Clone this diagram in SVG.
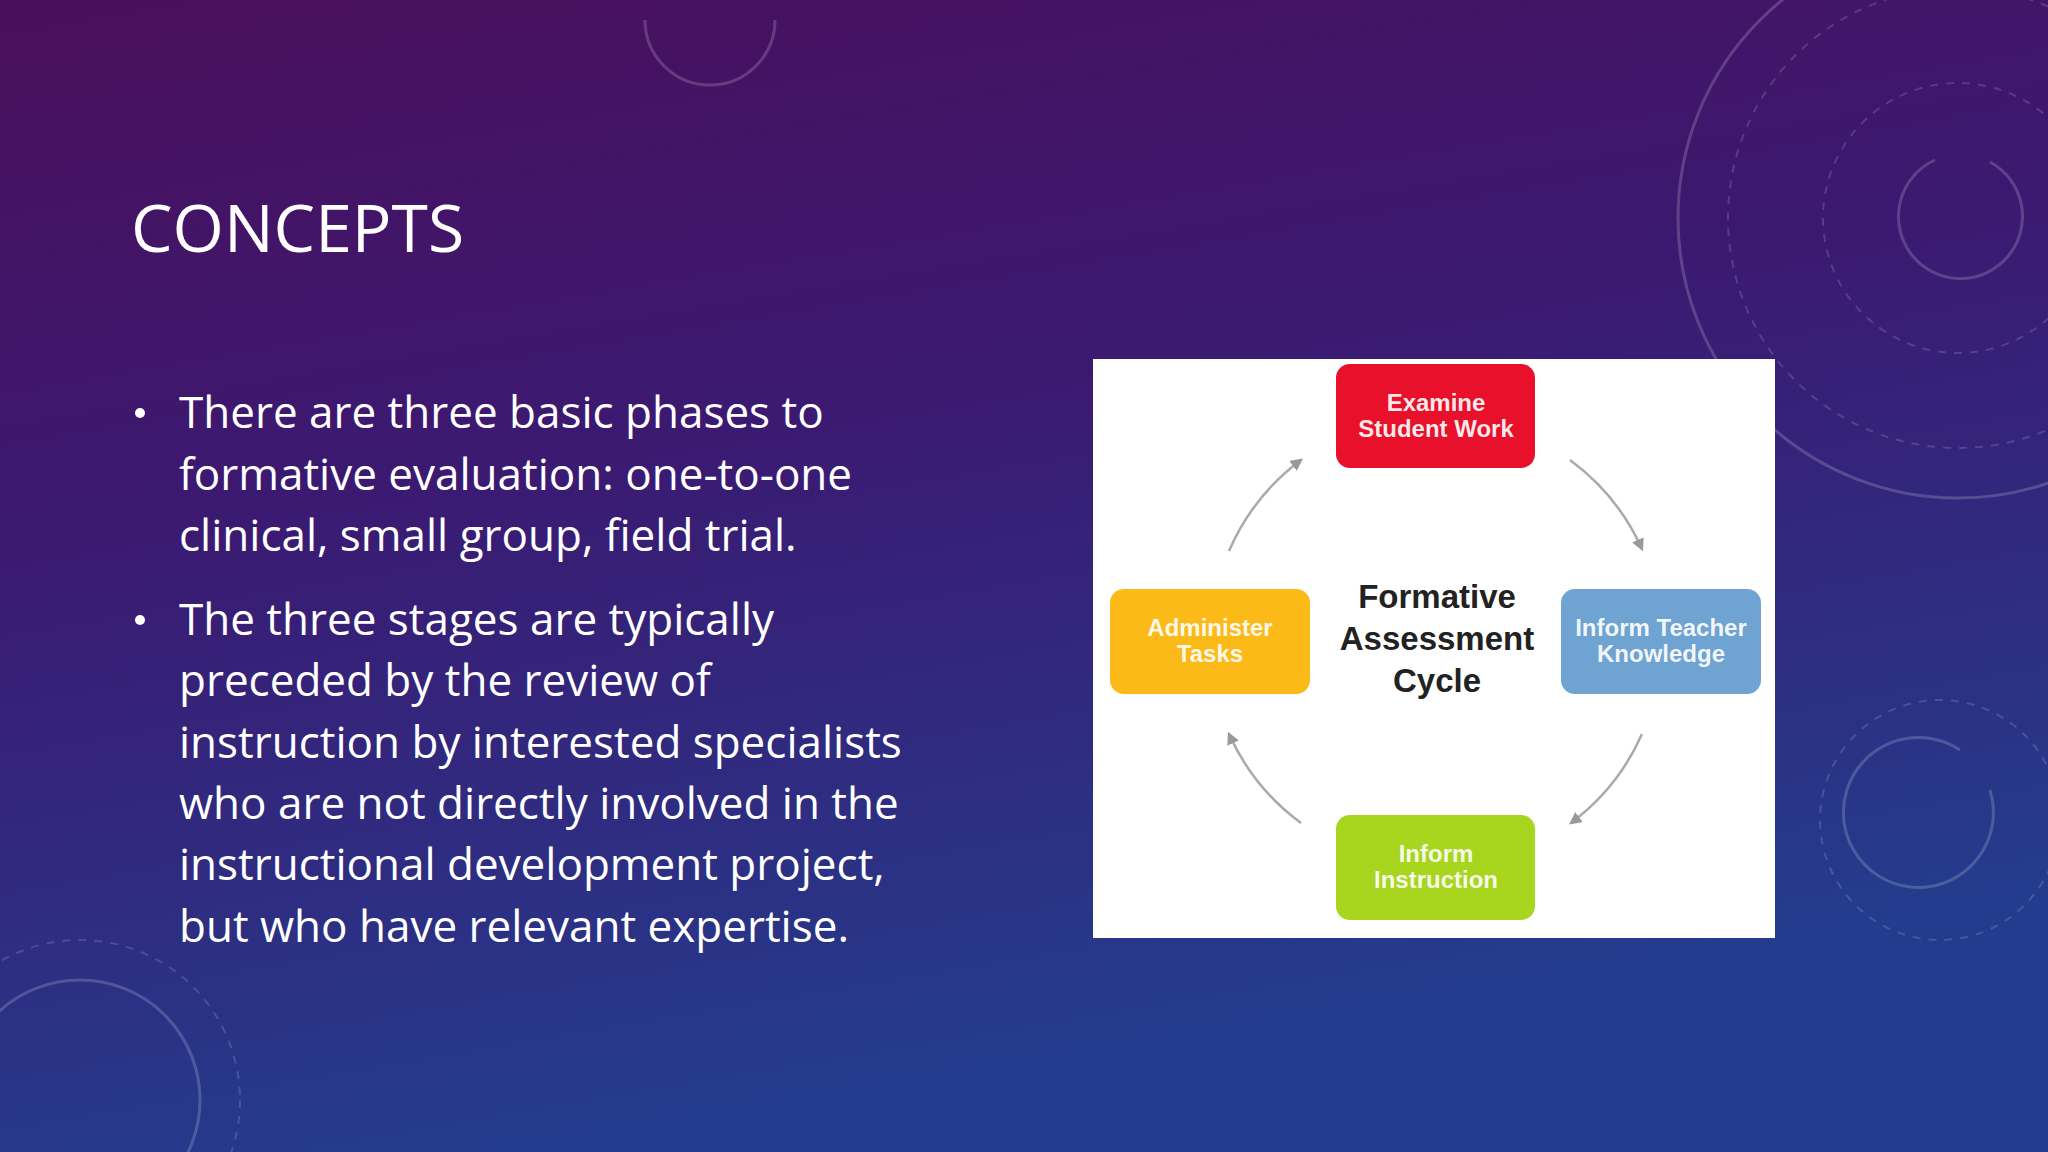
<svg xmlns="http://www.w3.org/2000/svg" width="2048" height="1152" viewBox="0 0 2048 1152">
<defs>
<linearGradient id="bg" x1="0" y1="0" x2="0.3" y2="1">
<stop offset="0" stop-color="#4a0f5c"/>
<stop offset="0.45" stop-color="#3b1a72"/>
<stop offset="1" stop-color="#233d8e"/>
</linearGradient>
<marker id="ah" viewBox="0 0 10 10" refX="8" refY="5" markerWidth="5" markerHeight="5" orient="auto"><path d="M0,0 L10,5 L0,10 z" fill="#999"/></marker>
<style>
.deco{fill:none;stroke:#ffffff;stroke-opacity:0.18;stroke-width:3}
.decod{fill:none;stroke:#ffffff;stroke-opacity:0.15;stroke-width:2;stroke-dasharray:8 8}
.bt{font-family:"Open Sans",sans-serif;font-size:44px;fill:#ffffff}
.box{stroke:none}
.bx{font-family:"Liberation Sans",Arial,sans-serif;font-weight:bold;font-size:24px;fill:#ffffff;text-anchor:middle;fill-opacity:0.92}
.ct{font-family:"Liberation Sans",Arial,sans-serif;font-weight:bold;font-size:33px;fill:#222;text-anchor:middle}
.arc{fill:none;stroke:#aaa;stroke-width:2.5;marker-end:url(#ah)}
</style>
</defs>
<rect width="2048" height="1152" fill="url(#bg)"/>
<g id="decorations">
<circle cx="1958" cy="218" r="280" class="deco"/>
<circle cx="1958" cy="218" r="230" class="decod"/>
<circle cx="1958" cy="218" r="135" class="decod"/>
<path d="M1990,162 A62,62 0 1 1 1935,160" class="deco"/>
<circle cx="1940" cy="820" r="120" class="decod"/>
<path d="M1990,790 A75,75 0 1 1 1960,750" class="deco"/>
<path d="M645,20 A60,60 0 0 0 775,20" class="deco"/>
<circle cx="80" cy="1100" r="120" class="deco"/>
<circle cx="80" cy="1100" r="160" class="decod"/>
</g>
<text id="title" x="131" y="252" font-family="'Open Sans',sans-serif" font-size="66" fill="#ffffff">CONCEPTS</text>
<g id="bullets">
<circle cx="140" cy="413" r="5" fill="#fff"/>
<text class="bt" x="179" y="428">There are three basic phases to</text>
<text class="bt" x="179" y="490">formative evaluation: one-to-one</text>
<text class="bt" x="179" y="551">clinical, small group, field trial.</text>
<circle cx="140" cy="620" r="5" fill="#fff"/>
<text class="bt" x="179" y="635">The three stages are typically</text>
<text class="bt" x="179" y="696">preceded by the review of</text>
<text class="bt" x="179" y="758">instruction by interested specialists</text>
<text class="bt" x="179" y="819">who are not directly involved in the</text>
<text class="bt" x="179" y="880">instructional development project,</text>
<text class="bt" x="179" y="942">but who have relevant expertise.</text>
</g>
<rect id="panel" x="1093" y="359" width="682" height="579" fill="#ffffff"/>
<g id="connectors">
<path class="arc" d="M1570,460 A225,225 0 0 1 1642,549"/>
<path class="arc" d="M1642,734 A225,225 0 0 1 1571,823"/>
<path class="arc" d="M1301,823 A225,225 0 0 1 1229,734"/>
<path class="arc" d="M1229,551 A225,225 0 0 1 1301,460"/>
</g>
<g id="examine"><rect class="box" x="1336" y="364" width="199" height="104" rx="14" fill="#e8102a"/>
<text class="bx" x="1436" y="411">Examine</text><text class="bx" x="1436" y="437">Student Work</text></g>
<g id="inform-teacher"><rect class="box" x="1561" y="589" width="200" height="105" rx="14" fill="#6fa3d2"/>
<text class="bx" x="1661" y="636">Inform Teacher</text><text class="bx" x="1661" y="662">Knowledge</text></g>
<g id="inform-instruction"><rect class="box" x="1336" y="815" width="199" height="105" rx="14" fill="#a8d51e"/>
<text class="bx" x="1436" y="862">Inform</text><text class="bx" x="1436" y="888">Instruction</text></g>
<g id="administer"><rect class="box" x="1110" y="589" width="200" height="105" rx="14" fill="#fbba18"/>
<text class="bx" x="1210" y="636">Administer</text><text class="bx" x="1210" y="662">Tasks</text></g>
<g id="center"><text class="ct" x="1437" y="608">Formative</text><text class="ct" x="1437" y="650">Assessment</text><text class="ct" x="1437" y="692">Cycle</text></g>
</svg>
